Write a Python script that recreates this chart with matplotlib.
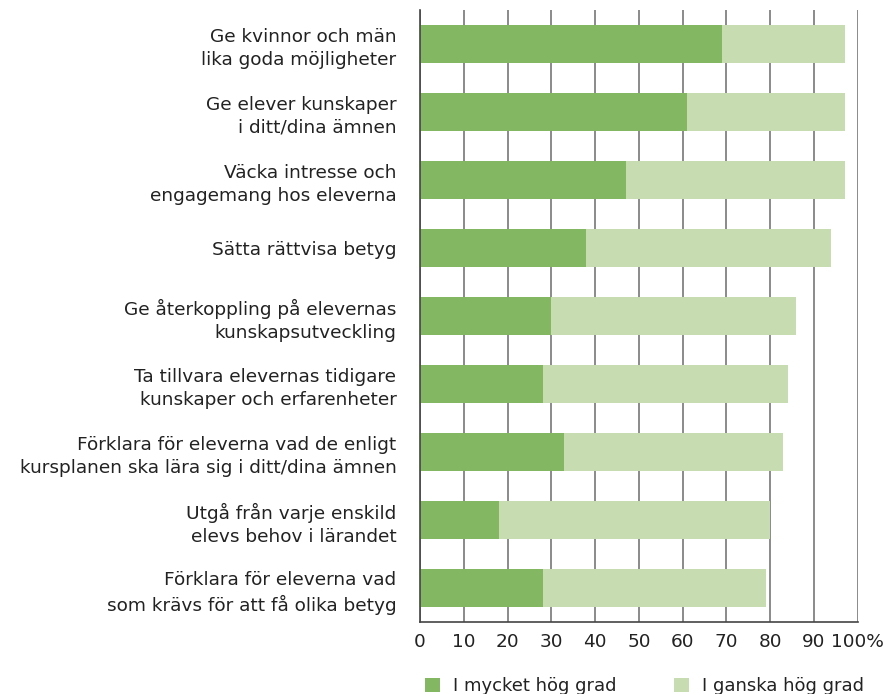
import matplotlib
matplotlib.use("Agg")
import matplotlib.pyplot as plt
from matplotlib.patches import Patch

# Survey categories, top to bottom
categories = [
    "Ge kvinnor och män\nlika goda möjligheter",
    "Ge elever kunskaper\ni ditt/dina ämnen",
    "Väcka intresse och\nengagemang hos eleverna",
    "Sätta rättvisa betyg",
    "Ge återkoppling på elevernas\nkunskapsutveckling",
    "Ta tillvara elevernas tidigare\nkunskaper och erfarenheter",
    "Förklara för eleverna vad de enligt\nkursplanen ska lära sig i ditt/dina ämnen",
    "Utgå från varje enskild\nelevs behov i lärandet",
    "Förklara för eleverna vad\nsom krävs för att få olika betyg",
]
mycket_hog = [69, 61, 47, 38, 30, 28, 33, 18, 28]
totalt = [97, 97, 97, 94, 86, 84, 83, 80, 79]
ganska_hog = [t - m for t, m in zip(totalt, mycket_hog)]

series_labels = ["I mycket hög grad", "I ganska hög grad"]
tick_values = [0, 10, 20, 30, 40, 50, 60, 70, 80, 90, 100]
tick_labels = ["0", "10", "20", "30", "40", "50", "60", "70", "80", "90", "100%"]

dark_green = "#83B762"
light_green = "#C7DDB1"
text_color = "#222222"

plt.rcParams["font.family"] = ["DejaVu Sans"]

fig = plt.figure(figsize=(8.9, 6.94), dpi=100)
ax = fig.add_axes([0.4719, 0.1037, 0.4918, 0.8819])

y = list(range(len(categories)))
ax.barh(y, mycket_hog, height=0.57, color=dark_green, zorder=2)
ax.barh(y, ganska_hog, left=mycket_hog, height=0.57, color=light_green, zorder=2)

ax.set_xlim(0, 100)
ax.set_ylim(len(categories) - 0.5, -0.5)
ax.set_yticks(y)
ax.set_yticklabels(categories, fontsize=13.3, color=text_color, linespacing=1.35)
ax.set_xticks(tick_values)
ax.set_xticklabels(tick_labels, fontsize=13.3, color=text_color)
ax.tick_params(axis="y", length=0, pad=17)
ax.tick_params(axis="x", length=0, pad=8)

# Vertical gridlines behind the bars
ax.grid(True, axis="x", color="#777777", linewidth=1.2, zorder=0)
ax.set_axisbelow(True)

for side in ["top", "right"]:
    ax.spines[side].set_visible(False)
ax.spines["left"].set_color("#444444")
ax.spines["left"].set_linewidth(1.2)
ax.spines["bottom"].set_color("#444444")
ax.spines["bottom"].set_linewidth(1.2)

handles = [Patch(facecolor=dark_green, label=series_labels[0]),
           Patch(facecolor=light_green, label=series_labels[1])]
leg = fig.legend(handles=handles, loc="center", bbox_to_anchor=(0.724, 0.0115),
                 ncol=2, frameon=False, fontsize=13, handlelength=0.85,
                 handleheight=0.85, handletextpad=0.7, columnspacing=3.2)
for t in leg.get_texts():
    t.set_color(text_color)

fig.savefig("out.png", dpi=100)
plt.close(fig)
